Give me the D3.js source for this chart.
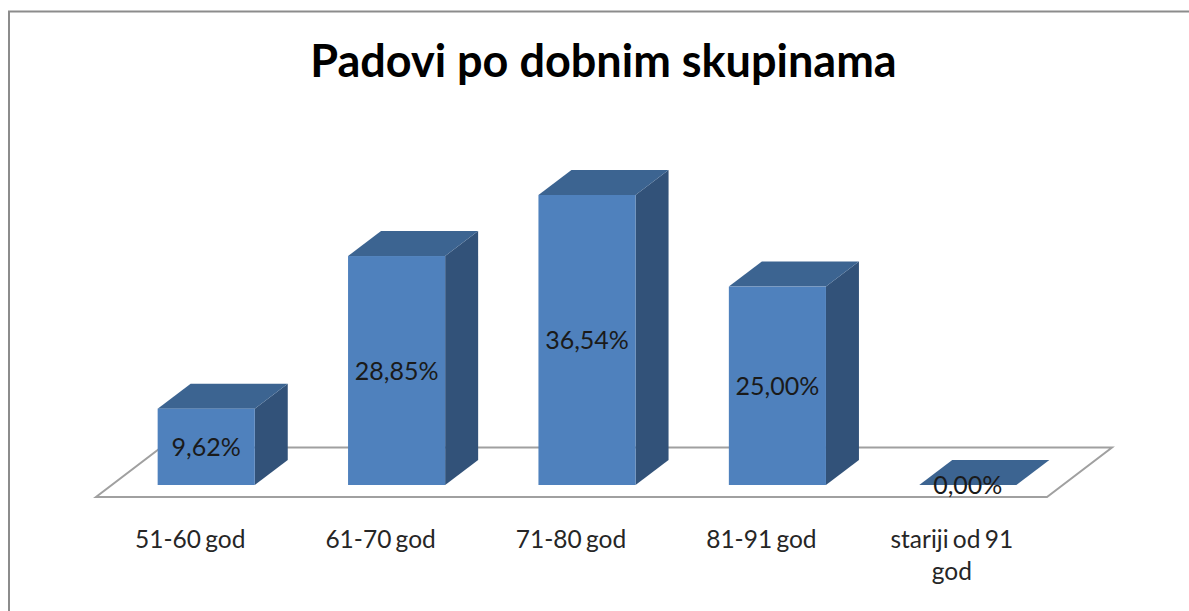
<!DOCTYPE html>
<html>
<head>
<meta charset="utf-8">
<script src="https://cdn.jsdelivr.net/npm/d3@7"></script>
<style>
  html, body { margin: 0; padding: 0; background: #fff; }
</style>
</head>
<body>
<svg width="1189" height="611"></svg>
<script>
const categories = ["51-60 god", "61-70 god", "71-80 god", "81-91 god", "stariji od 91 god"];
const values = [9.62, 28.85, 36.54, 25.0, 0.0];
const valueLabels = ["9,62%", "28,85%", "36,54%", "25,00%", "0,00%"];
const chartTitle = "Padovi po dobnim skupinama";

const fontFamily = "Lato, 'Noto Sans', sans-serif";
const baseY = 485;
const depthX = 33,
  depthY = 25;

const svg = d3.select("svg").attr("font-family", fontFamily);

// outer frame, only left and top are inside the picture
svg
  .append("path")
  .attr("d", "M9,611V11.5H1189")
  .attr("fill", "none")
  .attr("stroke", "#8c8c8c")
  .attr("stroke-width", 2);

svg
  .append("text")
  .attr("x", 603.5)
  .attr("y", 77)
  .attr("text-anchor", "middle")
  .attr("font-size", 45)
  .attr("font-weight", 700)
  .attr("fill", "#000")
  .text(chartTitle);

const x = d3.scaleBand().domain(categories).range([111, 1063]).paddingInner(0.49).paddingOuter(0.245);
const y = d3.scaleLinear().domain([0, 36.54]).range([baseY, 195]);

// floor of the 3d plot
svg
  .append("path")
  .attr("d", "M96,497H1047L1112,447.5H161Z")
  .attr("fill", "#fff")
  .attr("stroke", "#a0a0a0")
  .attr("stroke-width", 2);

const bars = svg
  .append("g")
  .selectAll("g")
  .data(categories)
  .join("g");

// right side
bars
  .append("path")
  .attr("fill", "#325279")
  .attr("d", (d, i) => {
    const x1 = x(d) + x.bandwidth();
    return `M${x1},${y(values[i])}l${depthX},${-depthY}V${baseY - depthY}l${-depthX},${depthY}Z`;
  });

// top
bars
  .append("path")
  .attr("fill", "#3c6491")
  .attr("d", (d, i) => {
    const x0 = x(d);
    return `M${x0},${y(values[i])}l${depthX},${-depthY}h${x.bandwidth()}l${-depthX},${depthY}Z`;
  });

// front
bars
  .append("rect")
  .attr("x", (d) => x(d))
  .attr("y", (d, i) => y(values[i]))
  .attr("width", x.bandwidth())
  .attr("height", (d, i) => baseY - y(values[i]))
  .attr("fill", "#4f81bd");

// value labels sit in the middle of the front face
svg
  .append("g")
  .selectAll("text")
  .data(categories)
  .join("text")
  .attr("x", (d) => x(d) + x.bandwidth() / 2)
  .attr("y", (d, i) => (y(values[i]) + baseY) / 2 + 9)
  .attr("text-anchor", "middle")
  .attr("font-size", 25)
  .attr("fill", "#1a1a1a")
  .text((d, i) => valueLabels[i]);

// category labels, the last one wraps
const catLabels = svg
  .append("g")
  .selectAll("text")
  .data(categories)
  .join("text")
  .attr("text-anchor", "middle")
  .attr("font-size", 24.5)
  .attr("word-spacing", -2)
  .attr("fill", "#262626");

catLabels.each(function (d) {
  const cx = x(d) + x.bandwidth() / 2 - 16;
  const lines = d.length > 12 ? ["stariji od 91", "god"] : [d];
  d3.select(this)
    .selectAll("tspan")
    .data(lines)
    .join("tspan")
    .attr("x", cx)
    .attr("y", (l, i) => 548 + i * 32)
    .text((l) => l);
});
</script>
</body>
</html>
